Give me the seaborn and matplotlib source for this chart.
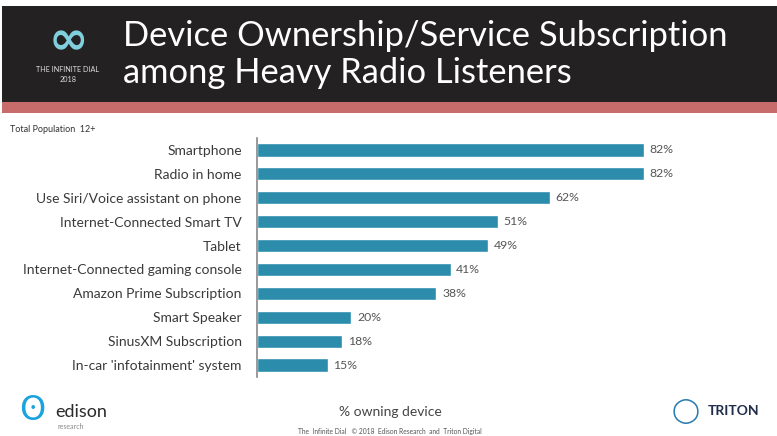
import matplotlib
matplotlib.use("Agg")
import matplotlib.pyplot as plt
from matplotlib.patches import Rectangle
import seaborn as sns
import pandas as pd

categories = [
    "Smartphone",
    "Radio in home",
    "Use Siri/Voice assistant on phone",
    "Internet-Connected Smart TV",
    "Tablet",
    "Internet-Connected gaming console",
    "Amazon Prime Subscription",
    "Smart Speaker",
    "SinusXM Subscription",
    "In-car 'infotainment' system",
]
values = [82, 82, 62, 51, 49, 41, 38, 20, 18, 15]
value_labels = [f"{v}%" for v in values]

title_line1 = "Device Ownership/Service Subscription"
title_line2 = "among Heavy Radio Listeners"

df = pd.DataFrame({"category": categories, "value": values})

sns.set_theme(style="white")
plt.rcParams["font.family"] = ["Lato", "DejaVu Sans"]

W, H = 777, 436
fig = plt.figure(figsize=(W / 100, H / 100), dpi=100)
fig.patch.set_facecolor("white")

# header band
fig.patches.append(Rectangle((2 / W, 1 - 102 / H), 1 - 2 / W, 96 / H,
                             transform=fig.transFigure, facecolor="#242122",
                             edgecolor="none", zorder=0))
fig.patches.append(Rectangle((2 / W, 1 - 113 / H), 1 - 2 / W, 11 / H,
                             transform=fig.transFigure, facecolor="#c86b6b",
                             edgecolor="none", zorder=0))

fig.text(123 / W, 1 - 36 / H, title_line1, color="white", fontsize=24.8,
         family="Lato", fontweight="normal", va="center", ha="left")
fig.text(123 / W, 1 - 73 / H, title_line2, color="white", fontsize=24.8,
         family="Lato", fontweight="normal", va="center", ha="left")

# logo-ish text
fig.text(68 / W, 1 - 42 / H, "\u221e", color="#7fd0dc", fontsize=34,
         family="DejaVu Sans", va="center", ha="center", fontweight="bold")
fig.text(68 / W, 1 - 70 / H, "THE INFINITE DIAL", color="#dddddd",
         fontsize=5.2, va="center", ha="center")
fig.text(68 / W, 1 - 80 / H, "2018", color="#dddddd",
         fontsize=5.2, va="center", ha="center")

fig.text(10 / W, 1 - 130 / H, "Total Population  12+", color="#333333",
         fontsize=6.5, va="center", ha="left")

ax = fig.add_axes([257 / W, 1 - 377 / H, 472 / W, 239 / H])
sns.barplot(data=df, x="value", y="category", orient="h", color="#2b8cab",
            saturation=1, width=0.55, ax=ax)
ax.set_xlim(0, 100)
ax.set_ylim(len(categories) - 0.5, -0.5)
ax.set_xlabel("")
ax.set_ylabel("")
ax.set_xticks([])
ax.tick_params(axis="y", length=0, pad=11, labelsize=10, labelcolor="#3a3a3a")
for s in ["top", "right", "bottom"]:
    ax.spines[s].set_visible(False)
ax.spines["left"].set_color("#888888")
ax.spines["left"].set_linewidth(1.2)

for i, (v, lab) in enumerate(zip(values, value_labels)):
    ax.text(v + 1.2, i, lab, va="center", ha="left", fontsize=8.8,
            color="#555555")

# footer
fig.text(390 / W, 1 - 412 / H, "% owning device", color="#444444",
         fontsize=10, va="center", ha="center")
fig.text(390 / W, 1 - 431 / H,
         "The  Infinite Dial   \u00a9 2018  Edison Research  and  Triton Digital",
         color="#555555", fontsize=4.8, va="center", ha="center")
fig.text(55 / W, 1 - 412 / H, "edison", color="#2a2a2a", fontsize=13,
         va="center", ha="left")
fig.text(58 / W, 1 - 426 / H, "research", color="#888888", fontsize=5,
         va="center", ha="left")
fig.text(32 / W, 1 - 410 / H, "\u0298", color="#1aa3dc", fontsize=24,
         family="DejaVu Sans", va="center", ha="center")
fig.text(708 / W, 1 - 411 / H, "TRITON", color="#1f2d4a", fontsize=10,
         fontweight="bold", va="center", ha="left")
fig.text(686 / W, 1 - 411 / H, "\u25ef", color="#2a7db0", fontsize=18,
         family="DejaVu Sans", va="center", ha="center")

fig.savefig("out.png", dpi=100)
